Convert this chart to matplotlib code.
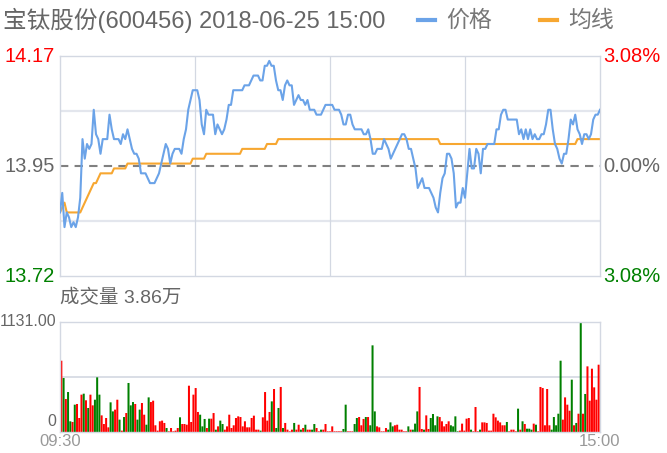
import matplotlib
matplotlib.use("Agg")
import matplotlib.pyplot as plt
from matplotlib.lines import Line2D
import numpy as np

plt.rcParams['font.family'] = ['Liberation Sans', 'Noto Sans CJK SC', 'DejaVu Sans']

# ---- data ----
title = "宝钛股份(600456) 2018-06-25 15:00"
legend_names = ["价格", "均线"]
price_top, price_mid, price_bottom = "14.17", "13.95", "13.72"
pct_top, pct_mid, pct_bottom = "3.08%", "0.00%", "3.08%"
price_range = (13.72, 14.17)
vol_title = "成交量 3.86万"
vol_max = 1131.00
time_labels = ["09:30", "15:00"]

# one value per minute, 09:30-11:30 and 13:00-15:00 (241 points)
price = [
    13.85, 13.89, 13.82, 13.85, 13.84, 13.82, 13.83, 13.82, 13.84, 13.88,
    14.00, 13.96, 13.99, 13.98, 13.99, 14.06, 14.01, 14.00, 13.97, 14.00,
    14.00, 14.00, 14.05, 14.02, 14.00, 14.00, 14.00, 13.99, 14.01, 14.00,
    14.02, 14.00, 13.98, 13.97, 13.97, 13.96, 13.93, 13.93, 13.93, 13.92,
    13.91, 13.91, 13.91, 13.92, 13.93, 13.95, 13.97, 13.99, 13.98, 13.95,
    13.97, 13.98, 13.98, 13.98, 13.97, 14.00, 14.02, 14.06, 14.08, 14.10,
    14.10, 14.10, 14.08, 14.03, 14.01, 14.06, 14.05, 14.05, 14.05, 14.01,
    14.03, 14.02, 14.01, 14.02, 14.04, 14.07, 14.07, 14.10, 14.10, 14.10,
    14.10, 14.10, 14.11, 14.11, 14.11, 14.12, 14.13, 14.13, 14.13, 14.12,
    14.12, 14.15, 14.15, 14.16, 14.15, 14.15, 14.12, 14.10, 14.10, 14.08,
    14.11, 14.12, 14.11, 14.11, 14.07, 14.08, 14.09, 14.08, 14.08, 14.07,
    14.08, 14.06, 14.06, 14.06, 14.05, 14.05, 14.05, 14.06, 14.07, 14.07,
    14.07, 14.07, 14.06, 14.06, 14.06, 14.05, 14.03, 14.03, 14.05, 14.05,
    14.03, 14.02, 14.02, 14.02, 14.02, 14.01, 14.01, 14.02, 14.00, 13.97,
    13.97, 13.98, 13.98, 13.98, 14.00, 13.99, 13.98, 13.96, 13.97, 13.98,
    13.99, 14.00, 14.01, 14.01, 14.00, 13.98, 13.98, 13.96, 13.94, 13.90,
    13.91, 13.92, 13.90, 13.90, 13.90, 13.89, 13.88, 13.86, 13.85, 13.89,
    13.92, 13.93, 13.97, 13.97, 13.96, 13.93, 13.86, 13.87, 13.87, 13.90,
    13.88, 13.93, 13.98, 13.94, 13.94, 13.98, 13.97, 13.93, 13.98, 13.98,
    13.99, 13.99, 13.99, 13.99, 14.02, 14.02, 14.05, 14.06, 14.06, 14.04,
    14.04, 14.04, 14.04, 14.04, 14.01, 14.02, 14.00, 14.02, 14.00, 14.02,
    14.00, 14.01, 14.00, 14.00, 14.01, 14.01, 14.03, 14.06, 14.06, 14.02,
    13.99, 13.98, 13.96, 13.95, 13.97, 13.97, 14.00, 14.04, 14.03, 14.05,
    14.02, 14.01, 13.99, 14.01, 14.01, 14.00, 14.01, 14.04, 14.05, 14.05,
    14.06,
]

# average line: levels and how many minutes each one lasts
avg_levels = [13.85, 13.86, 13.87, 13.85, 13.86, 13.87, 13.88, 13.89, 13.90,
              13.91, 13.92, 13.93, 13.94, 13.95, 13.96, 13.97, 13.98, 13.99,
              14.00, 13.99, 14.00]
avg_runs = [1, 1, 1, 7, 1, 1, 1, 1, 1, 2, 1, 6, 6, 29, 6, 16, 11, 5, 72, 61, 11]

volume = [
    733, 555, 339, 411, 110, 103, 281, 288, 144, 384,
    394, 326, 247, 384, 274, 332, 562, 384, 171, 82,
    144, 48, 305, 212, 230, 332, 127, 14, 154, 195,
    504, 274, 308, 288, 127, 230, 298, 178, 75, 356,
    308, 322, 69, 14, 110, 117, 93, 41, 7, 41,
    7, 14, 41, 151, 82, 82, 75, 476, 103, 384,
    452, 206, 178, 58, 134, 41, 137, 137, 195, 24,
    58, 117, 82, 24, 58, 178, 41, 69, 144, 161,
    154, 58, 110, 48, 48, 144, 168, 24, 24, 14,
    151, 411, 117, 206, 315, 442, 41, 247, 463, 41,
    93, 24, 7, 24, 93, 24, 75, 24, 41, 75,
    24, 24, 24, 82, 41, 7, 24, 24, 82, 7,
    7, 58, 7, 7, 7, 7, 31, 281, 7, 7,
    7, 82, 144, 154, 69, 134, 154, 154, 69, 891,
    212, 58, 48, 7, 7, 41, 24, 99, 58, 69,
    75, 24, 24, 7, 7, 58, 24, 24, 86, 212,
    463, 31, 24, 171, 31, 144, 185, 69, 161, 154,
    110, 58, 82, 110, 69, 58, 161, 7, 14, 86,
    14, 137, 144, 24, 7, 257, 7, 24, 99, 99,
    93, 14, 14, 188, 151, 117, 99, 69, 69, 103,
    7, 24, 24, 7, 240, 24, 110, 82, 34, 34,
    24, 86, 75, 7, 463, 452, 69, 442, 69, 24,
    154, 69, 188, 733, 127, 356, 281, 219, 538, 69,
    93, 188, 1131, 188, 391, 675, 322, 651, 459, 332,
    692,
]
# r = up (red), g = down (green), ten bars per chunk
vol_colors = "".join([
    "rgrggrgrrr", "grgrrgggrr", "rrggrrgrgr", "gggrggrrgg",
    "rrrrrrrgrr", "rrrgrrrrrr", "rrgggrgrrg", "rggrrrrrrr",
    "rrrrrrrrrg", "rrrrgrggrg", "rrrrgrrgrg", "rrggrrgrrr",
    "rrrrrrggrr", "rggrrrgrgg", "grrrrrgggr", "rrrrrgrggg",
    "rrgrrggggr", "rrrrggggrr", "rrrgrrrgrr", "rrrrrrrrrg",
    "rrrrgrgrgg", "grgrrrrrrg", "ggggrrrrgr", "grgrgrrrrr",
    "r",
])

red, green = "#ff0000", "#008000"
blue_line, orange_line = "#6ba3e8", "#f7a731"
grid_c, frame_c = "#e3e6ed", "#d3d8e2"

W, H = 667, 453
fig = plt.figure(figsize=(W / 100, H / 100), dpi=100)


def fx(px):
    return px / W


def fy(py):
    return 1 - py / H


minutes = np.arange(len(price))
avg = np.repeat(avg_levels, avg_runs)

# ---- price panel ----
ax = fig.add_axes([fx(60), fy(276), 540 / W, 220 / H])
ax.set_xlim(0, len(price) - 1)
ax.set_ylim(*price_range)
lo, hi = price_range
for q in (0.25, 0.75):
    ax.axhline(lo + (hi - lo) * q, color=grid_c, lw=1.6, zorder=0)
for m in (60, 120, 180):
    ax.axvline(m, color=frame_c, lw=0.9, zorder=0)
ax.axhline((lo + hi) / 2, color="#808080", lw=1.5, dashes=(4, 3), zorder=1)
ax.plot(minutes, price, color=blue_line, lw=1.5, zorder=3)
ax.plot(minutes, avg, color=orange_line, lw=1.5, zorder=2)
ax.set_xticks([])
ax.set_yticks([])
for s in ax.spines.values():
    s.set_color(frame_c)
    s.set_linewidth(1)

lab_fs = 14.5
ax.text(-0.01, 1, price_top, transform=ax.transAxes, ha="right", va="center",
        color=red, fontsize=lab_fs)
ax.text(-0.01, 0.5, price_mid, transform=ax.transAxes, ha="right", va="center",
        color="#666666", fontsize=lab_fs)
ax.text(-0.01, 0, price_bottom, transform=ax.transAxes, ha="right", va="center",
        color=green, fontsize=lab_fs)
ax.text(1.006, 1, pct_top, transform=ax.transAxes, ha="left", va="center",
        color=red, fontsize=lab_fs)
ax.text(1.006, 0.5, pct_mid, transform=ax.transAxes, ha="left", va="center",
        color="#666666", fontsize=lab_fs)
ax.text(1.006, 0, pct_bottom, transform=ax.transAxes, ha="left", va="center",
        color=green, fontsize=lab_fs)

# ---- volume panel ----
axv = fig.add_axes([fx(60), fy(432), 540 / W, 110 / H])
axv.set_xlim(-0.6, len(volume) - 0.4)
axv.set_ylim(0, vol_max)
axv.axhline(vol_max / 2, color=frame_c, lw=1.2, zorder=0)
bar_cols = [red if c == "r" else green for c in vol_colors]
bars = axv.bar(np.arange(len(volume)), volume, width=0.9, color=bar_cols, lw=0)
for b in bars:
    b.set_snap(False)
axv.set_xticks([])
axv.set_yticks([])
for s in axv.spines.values():
    s.set_color(frame_c)
    s.set_linewidth(1)

axv.text(-0.007, 1, f"{vol_max:.2f}", transform=axv.transAxes, ha="right",
         va="center", color="#666666", fontsize=11.5)
axv.text(-0.007, 0.1, "0", transform=axv.transAxes, ha="right", va="center",
         color="#666666", fontsize=11.5)
fig.text(fx(60), fy(441), time_labels[0], ha="center", va="center",
         color="#999999", fontsize=12)
fig.text(fx(600), fy(441), time_labels[1], ha="center", va="center",
         color="#999999", fontsize=12)
fig.text(fx(60), fy(298), vol_title, ha="left", va="center",
         color="#666666", fontsize=14)

# ---- title and legend ----
fig.text(fx(3), fy(20), title, ha="left", va="center", color="#666666",
         fontsize=17)
for x0, col, name in ((418, blue_line, legend_names[0]),
                      (540, orange_line, legend_names[1])):
    fig.add_artist(Line2D([fx(x0), fx(x0 + 17)], [fy(20), fy(20)],
                          color=col, lw=3, transform=fig.transFigure))
    fig.text(fx(x0 + 28), fy(20), name, ha="left", va="center",
             color="#777777", fontsize=16.5)

fig.savefig("out.png", dpi=100)
